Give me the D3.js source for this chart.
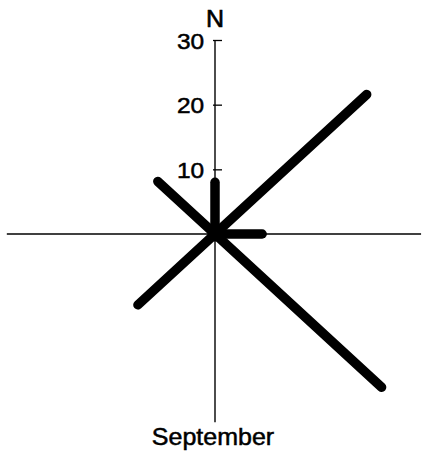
<!DOCTYPE html>
<html>
<head>
<meta charset="utf-8">
<script src="https://cdn.jsdelivr.net/npm/d3@7"></script>
<style>
  html, body { margin: 0; padding: 0; background: #fff; }
  svg { display: block; }
  text { font-family: "Liberation Sans", Arial, Helvetica, sans-serif; fill: #000; }
</style>
</head>
<body>
<svg id="rose" width="423" height="458"></svg>
<script>
// Wind direction frequencies for September (one arm per compass point)
const directions = ["N", "NE", "E", "SE", "S", "SW", "W", "NW"];
const frequency  = [8, 30.5, 6.7, 33.5, 0, 15.5, 0, 11.5];

// Radial axis ticks and labels
const tickValues = [10, 20, 30];
const northLabel = "N";
const monthLabel = "September";

const W = 423, H = 458;
const cx = 215, cy = 234;
const stretch = 1.0876;          // horizontal / vertical scale ratio of the plot

const svg = d3.select("#rose");

// Vertical distances (north-south) and horizontal distances (east-west)
const yScale = d3.scaleLinear().domain([0, 30]).range([cy, cy - 194]);
const xScale = d3.scaleLinear().domain([0, 30]).range([cx, cx + 194 * stretch]);

// Cross-hair axes
svg.append("line")
  .attr("x1", xScale(-29.6)).attr("x2", xScale(29.3))
  .attr("y1", cy).attr("y2", cy)
  .attr("stroke", "#000").attr("stroke-width", 1.4);

svg.append("line")
  .attr("x1", cx).attr("x2", cx)
  .attr("y1", yScale(30)).attr("y2", yScale(-29.1))
  .attr("stroke", "#000").attr("stroke-width", 1.4);

// North axis with ticks to the right and labels on the left
const axis = d3.axisLeft(yScale)
  .tickValues(tickValues)
  .tickSizeInner(-7)
  .tickSizeOuter(0)
  .tickPadding(10)
  .tickFormat(d3.format("d"));

const axisG = svg.append("g")
  .attr("transform", `translate(${cx},0)`)
  .call(axis);

axisG.select(".domain").remove();
axisG.selectAll(".tick line")
  .attr("x1", -2)
  .attr("stroke", "#000")
  .attr("stroke-width", 1.3);
axisG.selectAll(".tick text")
  .attr("font-size", 22.5)
  .attr("font-family", "Liberation Sans, Arial, sans-serif")
  .attr("fill", "#000")
  .attr("stroke", "#000")
  .attr("stroke-width", 0.5)
  .attr("dy", "0.36em")
  .attr("transform", `scale(${stretch},1)`);

// Frequency arms
const arms = directions.map((d, i) => ({ dir: d, value: frequency[i], angle: i * Math.PI / 4 }))
  .filter(d => d.value > 0);

svg.append("g").selectAll("line")
  .data(arms)
  .join("line")
  .attr("x1", cx).attr("y1", cy)
  .attr("x2", d => xScale(d.value * Math.sin(d.angle)))
  .attr("y2", d => yScale(d.value * Math.cos(d.angle)))
  .attr("stroke", "#000")
  .attr("stroke-width", 9.5)
  .attr("stroke-linecap", "round");

// Hub where the arms meet
svg.append("circle")
  .attr("cx", cx).attr("cy", cy).attr("r", 7.5)
  .attr("fill", "#000");

// North marker and month caption
svg.append("g")
  .attr("transform", `translate(215,27) scale(${stretch},1)`)
  .append("text")
  .attr("text-anchor", "middle")
  .attr("font-size", 23)
  .attr("stroke", "#000")
  .attr("stroke-width", 0.6)
  .text(northLabel);

svg.append("g")
  .attr("transform", `translate(213,445) scale(${stretch},1)`)
  .append("text")
  .attr("text-anchor", "middle")
  .attr("font-size", 23)
  .attr("stroke", "#000")
  .attr("stroke-width", 0.5)
  .text(monthLabel);
</script>
</body>
</html>
